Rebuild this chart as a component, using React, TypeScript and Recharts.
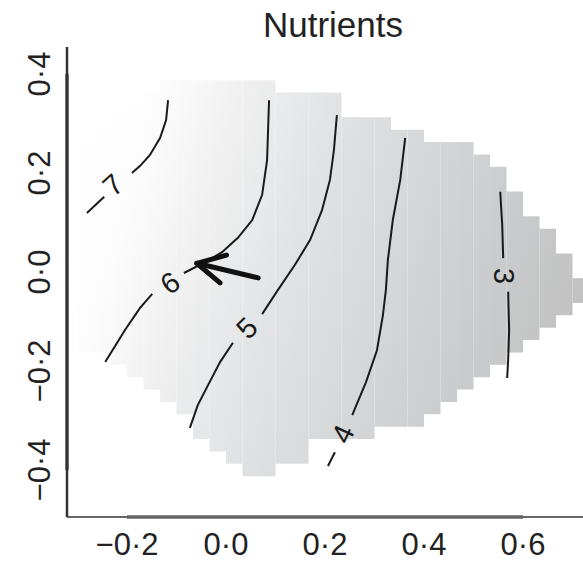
import React from 'react';
import { ScatterChart, Scatter, XAxis, YAxis, ReferenceArea, ReferenceLine } from 'recharts';

const TITLE = 'Nutrients';
const X_DOMAIN: [number, number] = [-0.3212, 0.7212];
const Y_DOMAIN: [number, number] = [-0.4949, 0.4545];
const X_TICKS = [-0.2, 0, 0.2, 0.4, 0.6];
const X_TICK_LABELS = ['−0·2', '0·0', '0·2', '0·4', '0·6'];
const Y_TICKS = [-0.4, -0.2, 0, 0.2, 0.4];
const Y_TICK_LABELS = ['−0·4', '−0·2', '0·0', '0·2', '0·4'];

// prediction grid: column edges, and top/bottom edge of covered cells per column
const COL_EDGES = [
  -0.3, -0.2667, -0.2333, -0.2, -0.1667, -0.1333, -0.1, -0.0667, -0.0333, 0,
  0.0333, 0.0667, 0.1, 0.1333, 0.1667, 0.2, 0.2333, 0.2667, 0.3, 0.3333,
  0.3667, 0.4, 0.4333, 0.4667, 0.5, 0.5333, 0.5667, 0.6, 0.6333, 0.6667,
  0.7, 0.7333,
];
const COL_TOP = [
  0.2625, 0.2875, 0.3125, 0.3375, 0.3625, 0.3875, 0.3875, 0.3875, 0.3875, 0.3875,
  0.3875, 0.3875, 0.3625, 0.3625, 0.3625, 0.3625, 0.3125, 0.3125, 0.3125, 0.2875,
  0.2875, 0.2625, 0.2625, 0.2625, 0.2375, 0.2125, 0.1625, 0.1125, 0.0875, 0.0375,
  -0.0125,
];
const COL_BOTTOM = [
  -0.1625, -0.1625, -0.1875, -0.2125, -0.2375, -0.2625, -0.2875, -0.3375, -0.3625, -0.3875,
  -0.4125, -0.4125, -0.3875, -0.3875, -0.3375, -0.3375, -0.3375, -0.3375, -0.3125, -0.3125,
  -0.3125, -0.2875, -0.2625, -0.2375, -0.2125, -0.1875, -0.1625, -0.1375, -0.1125, -0.0875,
  -0.0625,
];

// contour segments (gaps where labels sit)
const CONTOUR_7A = [[-0.117, 0.347], [-0.121, 0.307], [-0.133, 0.271], [-0.154, 0.236], [-0.174, 0.214], [-0.19, 0.2]];
const CONTOUR_7B = [[-0.246, 0.152], [-0.281, 0.119]];
const CONTOUR_6A = [[0.087, 0.347], [0.085, 0.287], [0.083, 0.226], [0.073, 0.156], [0.053, 0.105], [0.024, 0.069], [-0.008, 0.04], [-0.042, 0.02], [-0.085, -0.002]];
const CONTOUR_6B = [[-0.149, -0.044], [-0.174, -0.073], [-0.204, -0.117], [-0.244, -0.182]];
const CONTOUR_5A = [[0.224, 0.317], [0.218, 0.246], [0.21, 0.186], [0.194, 0.125], [0.17, 0.065], [0.139, 0.014], [0.105, -0.036], [0.073, -0.085]];
const CONTOUR_5B = [[0.014, -0.143], [-0.012, -0.182], [-0.036, -0.228], [-0.057, -0.269], [-0.073, -0.315]];
const CONTOUR_4A = [[0.362, 0.271], [0.352, 0.186], [0.337, 0.105], [0.327, 0.024], [0.323, -0.036], [0.317, -0.087], [0.305, -0.158], [0.283, -0.222], [0.255, -0.289]];
const CONTOUR_4B = [[0.22, -0.364], [0.206, -0.392]];
const CONTOUR_3A = [[0.554, 0.162], [0.558, 0.095], [0.56, 0.028]];
const CONTOUR_3B = [[0.57, -0.04], [0.572, -0.117], [0.57, -0.178], [0.568, -0.214]];

const CONTOUR_LABELS = [
  { text: '7', x: -0.228, y: 0.176 },
  { text: '6', x: -0.113, y: -0.022 },
  { text: '5', x: 0.042, y: -0.113 },
  { text: '4', x: 0.236, y: -0.327 },
  { text: '3', x: 0.562, y: -0.008 },
];
const LABEL_ANGLES = [-42, -34, -45, -65, 90];

const ARROW_SHAFT = [[0.065, -0.012], [-0.059, 0.0176]];
const ARROW_HEAD = [[0.001, 0.034], [-0.059, 0.0176], [-0.012, -0.022]];

const toPts = (a: number[][]) => a.map(([x, y]) => ({ x, y }));
const SEGMENTS = [CONTOUR_7A, CONTOUR_7B, CONTOUR_6A, CONTOUR_6B, CONTOUR_5A, CONTOUR_5B, CONTOUR_4A, CONTOUR_4B, CONTOUR_3A, CONTOUR_3B].map(toPts);

const FONT = '"Liberation Sans", Arial, Helvetica, sans-serif';
const TEXT = '#222';

const Empty = () => <g />;

const XTick = (p: any) => {
  const i = X_TICKS.indexOf(p.payload.value);
  return (
    <text x={p.x} y={p.y + 38} textAnchor="middle" fontSize={31} fill={TEXT} fontFamily={FONT}>
      {X_TICK_LABELS[i]}
    </text>
  );
};

const YTick = (p: any) => {
  const i = Y_TICKS.indexOf(p.payload.value);
  return (
    <text transform={`translate(${p.x - 17},${p.y}) rotate(-90)`} textAnchor="middle" fontSize={31} fill={TEXT} fontFamily={FONT}>
      {Y_TICK_LABELS[i]}
    </text>
  );
};

const LabelShape = (p: any) => {
  const idx = CONTOUR_LABELS.findIndex((l) => l.text === p.payload.text);
  return (
    <text
      transform={`translate(${p.cx},${p.cy}) rotate(${LABEL_ANGLES[idx]})`}
      textAnchor="middle"
      dominantBaseline="central"
      fontSize={29}
      fill="#1a1a1a"
      fontFamily={FONT}
    >
      {p.payload.text}
    </text>
  );
};

export default function App() {
  return (
    <div style={{ position: 'absolute', left: 0, top: 0, width: 583, height: 562, background: '#fff' }}>
      <svg width={583} height={50} style={{ position: 'absolute', left: 0, top: 0 }}>
        <text x={333} y={37} textAnchor="middle" fontSize={35} fill={TEXT} fontFamily={FONT}>
          {TITLE}
        </text>
      </svg>
      <div style={{ position: 'absolute', left: 0, top: 0 }}>
        <ScatterChart width={583} height={562} margin={{ top: 47, right: 0, bottom: 0, left: 0 }}>
          <defs>
            <linearGradient id="nutGrad" gradientUnits="userSpaceOnUse" x1="100" y1="200" x2="583" y2="345">
              <stop offset="0" stopColor="#fefefe" />
              <stop offset="0.06" stopColor="#fcfcfc" />
              <stop offset="0.206" stopColor="#f0f0f0" />
              <stop offset="0.389" stopColor="#e1e3e5" />
              <stop offset="0.586" stopColor="#d5d7d9" />
              <stop offset="0.81" stopColor="#c9cacb" />
              <stop offset="1" stopColor="#c0c0c0" />
            </linearGradient>
          </defs>
          <XAxis
            type="number"
            dataKey="x"
            domain={X_DOMAIN}
            allowDataOverflow
            ticks={X_TICKS}
            tick={XTick}
            tickLine={false}
            tickSize={0}
            tickMargin={0}
            height={45}
            axisLine={{ stroke: '#666', strokeWidth: 2 }}
          />
          <YAxis
            type="number"
            dataKey="y"
            domain={Y_DOMAIN}
            allowDataOverflow
            ticks={Y_TICKS}
            tick={YTick}
            tickLine={false}
            tickSize={0}
            tickMargin={0}
            width={67}
            axisLine={{ stroke: '#333', strokeWidth: 2.5 }}
          />
          {COL_TOP.map((top, i) => (
            <ReferenceArea
              key={`c${i}`}
              x1={COL_EDGES[i]}
              x2={COL_EDGES[i + 1]}
              y1={COL_BOTTOM[i]}
              y2={top}
              fill="url(#nutGrad)"
              fillOpacity={1}
              stroke="none"
              ifOverflow="hidden"
            />
          ))}
          <ReferenceLine
            segment={[{ x: X_TICKS[0], y: Y_DOMAIN[0] }, { x: X_TICKS[X_TICKS.length - 1], y: Y_DOMAIN[0] }]}
            stroke="#111"
            strokeWidth={3}
            ifOverflow="visible"
          />
          <ReferenceLine
            segment={[{ x: X_DOMAIN[0], y: Y_TICKS[0] }, { x: X_DOMAIN[0], y: Y_TICKS[Y_TICKS.length - 1] }]}
            stroke="#111"
            strokeWidth={3}
            ifOverflow="visible"
          />
          {SEGMENTS.map((seg, i) => (
            <Scatter
              key={`s${i}`}
              data={seg}
              line={{ stroke: '#1a1a1a', strokeWidth: 2 }}
              shape={Empty}
              isAnimationActive={false}
            />
          ))}
          <Scatter
            data={toPts(ARROW_SHAFT)}
            line={{ stroke: '#111', strokeWidth: 5, strokeLinecap: 'round' }}
            shape={Empty}
            isAnimationActive={false}
          />
          <Scatter
            data={toPts(ARROW_HEAD)}
            line={{ stroke: '#111', strokeWidth: 5, strokeLinecap: 'round', strokeLinejoin: 'round' }}
            shape={Empty}
            isAnimationActive={false}
          />
          <Scatter data={CONTOUR_LABELS} shape={LabelShape} isAnimationActive={false} />
        </ScatterChart>
      </div>
    </div>
  );
}
